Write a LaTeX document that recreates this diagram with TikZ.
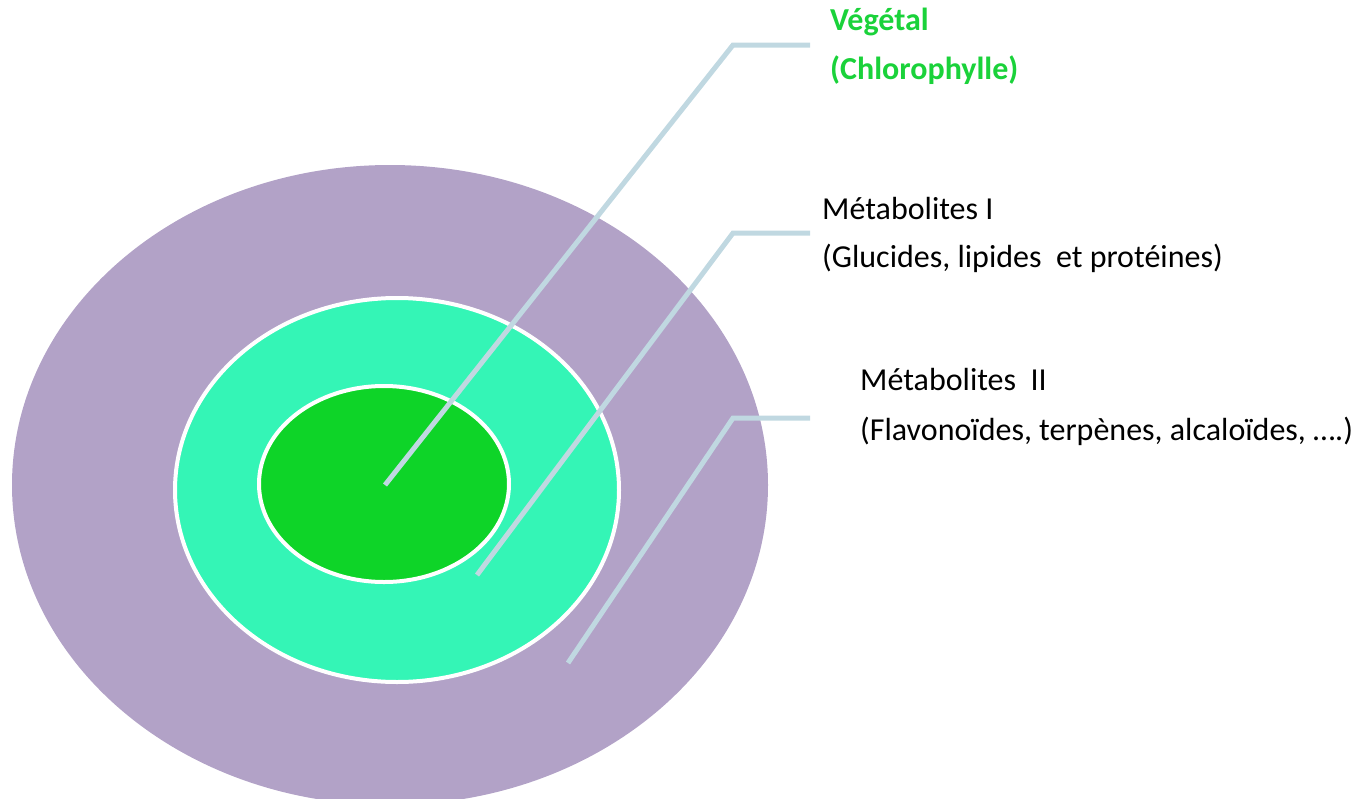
\documentclass[tikz,border=0pt]{standalone}
\usepackage{fontspec}
\setmainfont{Carlito}
\usetikzlibrary{calc}
\definecolor{lilas}{RGB}{178,162,199}
\definecolor{aqua}{RGB}{52,245,182}
\definecolor{vert}{RGB}{14,212,40}
\definecolor{vtexte}{RGB}{26,210,58}
\definecolor{trait}{RGB}{192,216,225}

\begin{document}
\begin{tikzpicture}[x=1pt,y=-1pt,
  couche/.style={draw=white,line width=4pt},
  renvoi/.style={draw=trait,line width=5pt},
  legende/.style={anchor=base west,inner sep=0pt,font=\fontsize{32}{38}\selectfont}]
\useasboundingbox (0,0) rectangle (1363,798);
\begin{scope}
\clip (0,0) rectangle (1363,798);
\fill[lilas] (390,485) ellipse [x radius=378,y radius=320];
\end{scope}
\path[couche,fill=aqua] (397,490) ellipse [x radius=222,y radius=192];
\path[couche,fill=vert] (384,484) ellipse [x radius=125,y radius=98];
% points de depart et coudes
\coordinate (p1) at (385,485);
\coordinate (p2) at (477,575);
\coordinate (p3) at (568,663);
\coordinate (k1) at (733,45);
\coordinate (k2) at (733,233);
\coordinate (k3) at (733,418);
\coordinate (e1) at (810,45);
\coordinate (e2) at (810,233);
\coordinate (e3) at (810,418);
\draw[renvoi] (p1) -- (k1) -- (e1);
\draw[renvoi] (p2) -- (k2) -- (e2);
\draw[renvoi] (p3) -- (k3) -- (e3);
% textes
\node[legende,text=vtexte,font=\fontsize{32}{38}\selectfont\bfseries] (veg) at (830,30) {Végétal};
\node[legende,text=vtexte,font=\fontsize{32}{38}\selectfont\bfseries] (chl) at (830,79) {(Chlorophylle)};
\node[legende] (m1) at (822,219) {Métabolites I};
\node[legende] (m1b) at (822,267) {(Glucides, lipides~ et protéines)};
\node[legende] (m2) at (860,390) {Métabolites~ II};
\node[legende] (m2b) at (860,440) {(Flavonoïdes, terpènes, alcaloïdes, ….)};
\end{tikzpicture}
\end{document}
